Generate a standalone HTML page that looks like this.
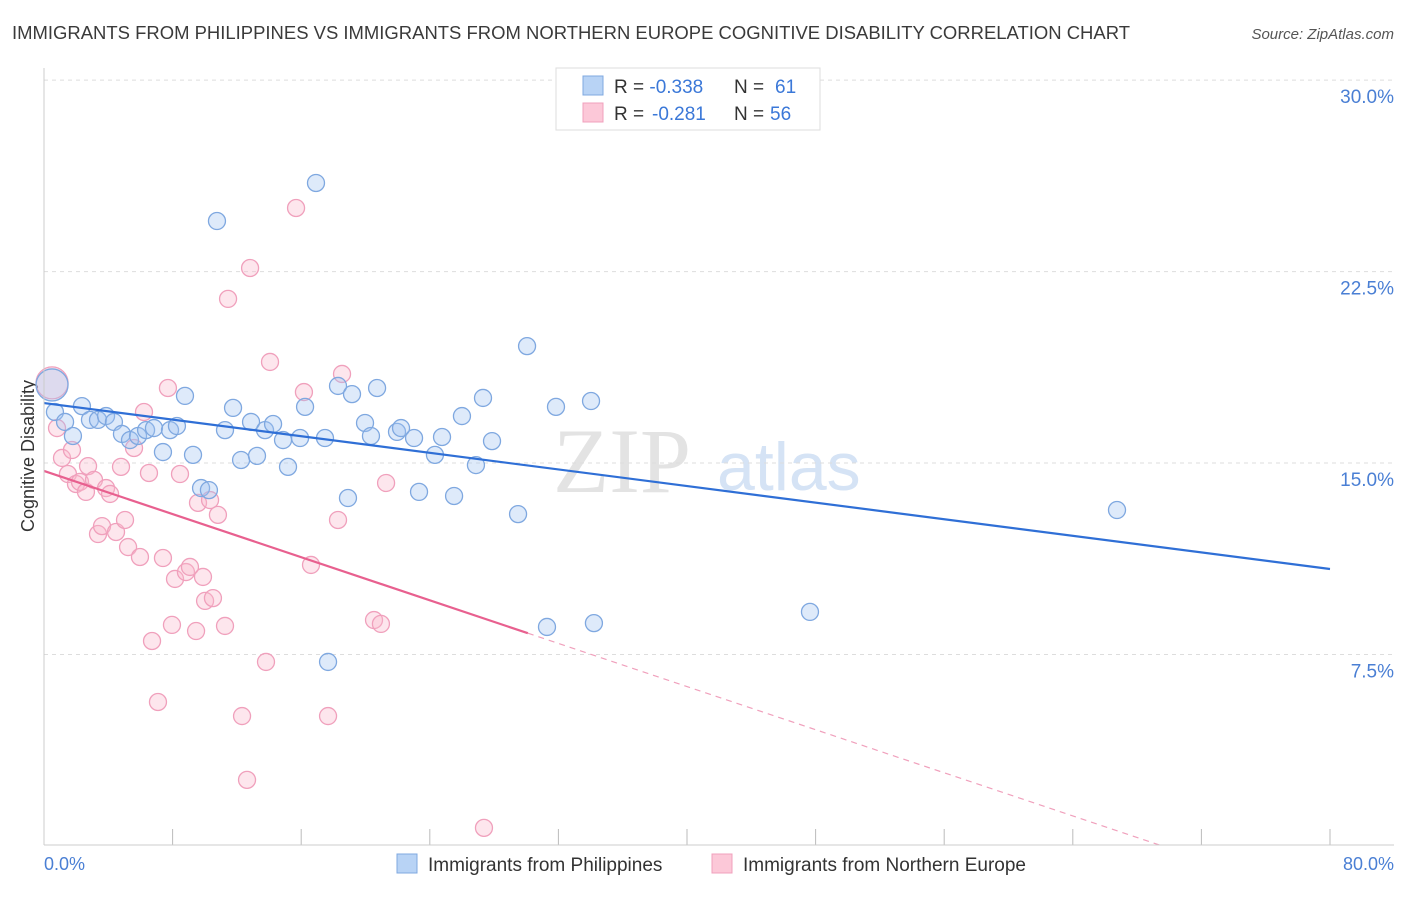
<!DOCTYPE html>
<html><head><meta charset="utf-8"><style>
body{margin:0;background:#fff;font-family:"Liberation Sans",sans-serif;}
</style></head><body>
<svg id="chart" width="1406" height="892" xmlns="http://www.w3.org/2000/svg" font-family="Liberation Sans, sans-serif">
<text x="12" y="39" font-size="18" fill="#3a3a3a" textLength="1118" lengthAdjust="spacingAndGlyphs">IMMIGRANTS FROM PHILIPPINES VS IMMIGRANTS FROM NORTHERN EUROPE COGNITIVE DISABILITY CORRELATION CHART</text>
<text x="1394" y="39" font-size="15" fill="#555" font-style="italic" text-anchor="end">Source: ZipAtlas.com</text>
<text x="553" y="492" font-size="92" fill="#e3e3e3" font-family="Liberation Serif, serif">ZIP</text>
<text x="717" y="490" font-size="68" fill="#d5e3f5">atlas</text>
<text transform="translate(34,456) rotate(-90)" font-size="18" fill="#333" text-anchor="middle">Cognitive Disability</text>
<g id="grid"></g><g id="pts"></g><g id="trend"></g>
<line x1="44" y1="845" x2="1394" y2="845" stroke="#ccc"/>
<line x1="44" y1="68" x2="44" y2="845" stroke="#ccc"/>
<text x="44" y="870" font-size="18" fill="#4a7fd4">0.0%</text>
<text x="1394" y="870" font-size="18" fill="#4a7fd4" text-anchor="end">80.0%</text>
<g>
<rect x="556" y="68" width="264" height="62" fill="#fff" stroke="#ddd"/>
<rect x="583" y="76" width="20" height="19" fill="#b8d3f5" stroke="#7fa8e0"/>
<rect x="583" y="103" width="20" height="19" fill="#fcc8d8" stroke="#f0a0bc"/>
<text x="614" y="93" font-size="19" fill="#333">R = <tspan fill="#3b78d8">-0.338</tspan><tspan x="734">N = </tspan><tspan fill="#3b78d8" x="775">61</tspan></text>
<text x="614" y="120" font-size="19" fill="#333">R = <tspan fill="#3b78d8" x="652">-0.281</tspan><tspan x="734">N = </tspan><tspan fill="#3b78d8" x="770">56</tspan></text>
</g>
<g>
<rect x="397" y="854" width="20" height="19" fill="#b8d3f5" stroke="#7fa8e0"/>
<text x="428" y="871" font-size="19" fill="#333">Immigrants from Philippines</text>
<rect x="712" y="854" width="20" height="19" fill="#fcc8d8" stroke="#f0a0bc"/>
<text x="743" y="871" font-size="19" fill="#333">Immigrants from Northern Europe</text>
</g>
</svg>
<script>
const yTicks=[7.5,15,22.5,30];
const yTickLabels=["7.5%","15.0%","22.5%","30.0%"];
const xTicks=[0,8,16,24,32,40,48,56,64,72,80];
const blueX=[0.5,0.68,1.31,1.8,2.36,2.86,3.36,3.86,4.35,4.85,5.35,5.85,6.35,6.84,7.4,7.84,8.27,8.77,9.27,9.77,10.26,10.76,11.26,11.76,12.26,12.88,13.25,13.75,14.25,14.87,15.18,15.93,16.24,16.92,17.48,17.67,18.29,18.91,19.16,19.97,20.34,20.72,21.96,22.21,23.02,23.33,24.32,24.76,25.51,26.0,26.87,27.31,27.87,29.49,30.05,31.29,31.85,34.03,34.21,47.65,66.75];
const blueY=[18.06,17.0,16.61,16.06,17.23,16.69,16.69,16.84,16.61,16.14,15.9,16.06,16.29,16.37,15.43,16.29,16.45,17.63,15.32,14.02,13.94,24.48,16.29,17.16,15.12,16.61,15.28,16.29,16.53,15.9,14.85,15.98,17.2,25.97,15.98,7.21,18.02,13.63,17.7,16.57,16.06,17.94,16.22,16.37,15.98,13.87,15.32,16.02,13.71,16.84,14.92,17.55,15.86,13.0,19.58,8.58,17.2,17.43,8.73,9.17,13.16];
const pinkX=[0.5,0.81,1.12,1.49,1.74,1.99,2.24,2.61,2.74,3.11,3.36,3.61,3.86,4.11,4.48,4.79,5.04,5.23,5.6,5.97,6.22,6.53,6.72,7.09,7.4,7.71,7.96,8.15,8.46,8.83,9.08,9.46,9.58,9.89,10.02,10.33,10.51,10.82,11.26,11.45,12.32,12.63,12.82,13.81,14.06,15.68,16.17,16.61,17.67,18.29,18.54,20.53,20.96,21.28,27.37];
const pinkY=[18.14,16.37,15.2,14.57,15.51,14.18,14.26,13.87,14.88,14.34,12.22,12.53,14.02,13.79,12.3,14.85,12.77,11.71,15.59,11.32,17.0,14.61,8.03,5.64,11.28,17.94,8.66,10.46,14.57,10.73,10.93,8.42,13.44,10.54,9.6,13.55,9.71,12.97,8.62,21.43,5.09,2.59,22.64,7.21,18.96,24.99,17.78,11.01,5.09,12.77,18.49,8.85,8.7,14.22,0.71];
const blueTrend=[17.35,10.85];
const pinkTrend=[14.69,-2.2];
const pinkSolidEnd=30.1;
const NS="http://www.w3.org/2000/svg";
const sx=v=>44+v*16.075, sy=v=>846-v*25.53;
function mk(t,a,p){const e=document.createElementNS(NS,t);for(const k in a)e.setAttribute(k,a[k]);p.appendChild(e);return e;}
const grid=document.getElementById('grid');
yTicks.forEach((v,i)=>{
 const l=mk('line',{x1:44,x2:1394,y1:sy(v),y2:sy(v),stroke:'#ddd','stroke-dasharray':'4,4'},grid);
 
 
 const t=mk('text',{x:1394,y:sy(v)+23,'font-size':19,fill:'#4a7fd4','text-anchor':'end'},grid);
 t.textContent=yTickLabels[i];
 
 
});
xTicks.forEach(v=>{
 const l=mk('line',{x1:sx(v),x2:sx(v),y1:829,y2:845,stroke:'#bbb'},grid);
 
 
});
const pts=document.getElementById('pts');
function dots(X,Y,fill,stroke,name){X.forEach((x,i)=>{
 const c=mk('circle',{cx:sx(x),cy:sy(Y[i]),r:i===0?16:8.5,fill:fill,stroke:stroke,'stroke-width':1.3},pts);
 
 
});}
dots(pinkX,pinkY,'rgba(248,182,204,0.35)','#f0a0bc','northern-europe-point');
dots(blueX,blueY,'rgba(160,196,240,0.35)','#7fa8e0','philippines-point');
const tr=document.getElementById('trend');
const lin=(a,x)=>a[0]+(a[1]-a[0])*x/80;
let b=mk('line',{x1:sx(0),y1:sy(blueTrend[0]),x2:sx(80),y2:sy(blueTrend[1]),stroke:'#2f6fd6','stroke-width':2.2},tr);


let p=mk('line',{x1:sx(0),y1:sy(pinkTrend[0]),x2:sx(pinkSolidEnd),y2:sy(lin(pinkTrend,pinkSolidEnd)),stroke:'#e8608f','stroke-width':2.2},tr);


const xz=pinkTrend[0]/(pinkTrend[0]-pinkTrend[1])*80;
let d=mk('line',{x1:sx(pinkSolidEnd),y1:sy(lin(pinkTrend,pinkSolidEnd)),x2:sx(xz),y2:sy(0),stroke:'#f0a0bc','stroke-width':1.2,'stroke-dasharray':'6,5'},tr);


</script>
</body></html>
